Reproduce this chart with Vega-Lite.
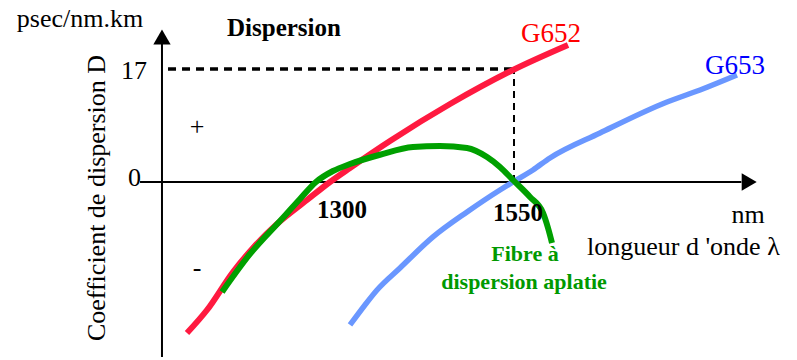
{
  "$schema": "https://vega.github.io/schema/vega-lite/v6.json",
  "width": 797,
  "height": 360,
  "autosize": {"type": "fit", "contains": "padding"},
  "padding": 0,
  "background": "white",
  "config": {"view": {"stroke": null}},
  "datasets": {
    "curves": [
      {"series": "G652", "ord": 1, "x": 1132.9, "y": -22.72},
      {"series": "G652", "ord": 2, "x": 1158.4, "y": -19.26},
      {"series": "G652", "ord": 3, "x": 1191.6, "y": -13.54},
      {"series": "G652", "ord": 4, "x": 1217.1, "y": -9.93},
      {"series": "G652", "ord": 5, "x": 1247.7, "y": -6.32},
      {"series": "G652", "ord": 6, "x": 1286.0, "y": -2.71},
      {"series": "G652", "ord": 7, "x": 1315.3, "y": 0.0},
      {"series": "G652", "ord": 8, "x": 1340.8, "y": 2.11},
      {"series": "G652", "ord": 9, "x": 1391.8, "y": 6.17},
      {"series": "G652", "ord": 10, "x": 1468.4, "y": 11.73},
      {"series": "G652", "ord": 11, "x": 1548.7, "y": 16.85},
      {"series": "G652", "ord": 12, "x": 1618.9, "y": 20.61},
      {"series": "G653", "ord": 1, "x": 1340.8, "y": -21.51},
      {"series": "G653", "ord": 2, "x": 1359.9, "y": -18.5},
      {"series": "G653", "ord": 3, "x": 1375.3, "y": -16.25},
      {"series": "G653", "ord": 4, "x": 1404.6, "y": -12.94},
      {"series": "G653", "ord": 5, "x": 1446.7, "y": -8.27},
      {"series": "G653", "ord": 6, "x": 1490.1, "y": -4.51},
      {"series": "G653", "ord": 7, "x": 1532.1, "y": -1.2},
      {"series": "G653", "ord": 8, "x": 1548.7, "y": 0.0},
      {"series": "G653", "ord": 9, "x": 1574.2, "y": 1.81},
      {"series": "G653", "ord": 10, "x": 1595.9, "y": 3.61},
      {"series": "G653", "ord": 11, "x": 1659.7, "y": 7.37},
      {"series": "G653", "ord": 12, "x": 1745.2, "y": 12.04},
      {"series": "G653", "ord": 13, "x": 1787.3, "y": 13.84},
      {"series": "G653", "ord": 14, "x": 1834.4, "y": 16.1},
      {"series": "flat", "ord": 1, "x": 1177.6, "y": -16.55},
      {"series": "flat", "ord": 2, "x": 1213.3, "y": -10.83},
      {"series": "flat", "ord": 3, "x": 1251.5, "y": -5.87},
      {"series": "flat", "ord": 4, "x": 1277.0, "y": -2.56},
      {"series": "flat", "ord": 5, "x": 1297.4, "y": 0.0},
      {"series": "flat", "ord": 6, "x": 1319.1, "y": 1.65},
      {"series": "flat", "ord": 7, "x": 1340.8, "y": 2.7},
      {"series": "flat", "ord": 8, "x": 1379.1, "y": 4.1},
      {"series": "flat", "ord": 9, "x": 1421.2, "y": 5.27},
      {"series": "flat", "ord": 10, "x": 1455.6, "y": 5.42},
      {"series": "flat", "ord": 11, "x": 1490.1, "y": 5.12},
      {"series": "flat", "ord": 12, "x": 1515.6, "y": 3.76},
      {"series": "flat", "ord": 13, "x": 1532.1, "y": 2.26},
      {"series": "flat", "ord": 14, "x": 1548.7, "y": 0.3},
      {"series": "flat", "ord": 15, "x": 1570.4, "y": -2.26},
      {"series": "flat", "ord": 16, "x": 1587.0, "y": -4.66},
      {"series": "flat", "ord": 17, "x": 1593.4, "y": -6.92},
      {"series": "flat", "ord": 18, "x": 1598.5, "y": -9.18}
    ],
    "rules": [
      {"kind": "axis", "x": 1101.0, "y": -26.33, "x2": 1101.0, "y2": 21.5},
      {"kind": "axis", "x": 1073.0, "y": 0, "x2": 1840.0, "y2": 0},
      {"kind": "hdash", "x": 1108.7, "y": 17, "x2": 1550.0, "y2": 17},
      {"kind": "vdash", "x": 1550.0, "y": 0, "x2": 1550.0, "y2": 17}
    ],
    "arrows": [
      {"dir": "up", "x": 1101.0, "y": 21.8},
      {"dir": "right", "x": 1850.0, "y": 0}
    ],
    "labels": [
      {"kind": "plain", "text": "psec/nm.km", "x": 996.4, "y": 24.52},
      {"kind": "bold", "text": "Dispersion", "x": 1256.6, "y": 23.17},
      {"kind": "right", "text": "17", "x": 1082.0, "y": 16.7},
      {"kind": "right", "text": "0", "x": 1074.2, "y": 0.6},
      {"kind": "plain", "text": "+", "x": 1145.7, "y": 8.27},
      {"kind": "plain", "text": "-", "x": 1145.7, "y": -12.94},
      {"kind": "bold", "text": "1300", "x": 1330.6, "y": -4.21},
      {"kind": "bold", "text": "1550", "x": 1555.1, "y": -4.66},
      {"kind": "plain", "text": "nm", "x": 1848.5, "y": -4.96},
      {"kind": "left", "text": "longueur d 'onde λ", "x": 1643.1, "y": -9.78},
      {"kind": "green", "text": "Fibre à", "x": 1564.0, "y": -10.83},
      {"kind": "green", "text": "dispersion aplatie", "x": 1562.8, "y": -15.04},
      {"kind": "red", "text": "G652", "x": 1597.2, "y": 22.27},
      {"kind": "blue", "text": "G653", "x": 1831.9, "y": 17.45},
      {"kind": "ytitle", "text": "Coefficient de dispersion D", "x": 1018.1, "y": -2.41}
    ]
  },
  "encoding": {
    "x": {"field": "x", "type": "quantitative", "scale": {"domain": [894.39, 1910.97], "nice": false, "zero": false}, "axis": null},
    "y": {"field": "y", "type": "quantitative", "scale": {"domain": [-26.78, 27.38], "nice": false, "zero": false}, "axis": null}
  },
  "layer": [
    {
      "data": {"name": "rules"},
      "transform": [{"filter": "datum.kind === 'axis'"}],
      "mark": {"type": "rule", "color": "black", "strokeWidth": 2},
      "encoding": {"x2": {"field": "x2"}, "y2": {"field": "y2"}}
    },
    {
      "data": {"name": "rules"},
      "transform": [{"filter": "datum.kind === 'hdash'"}],
      "mark": {"type": "rule", "color": "black", "strokeWidth": 3.5, "strokeDash": [8, 6]},
      "encoding": {"x2": {"field": "x2"}, "y2": {"field": "y2"}}
    },
    {
      "data": {"name": "rules"},
      "transform": [{"filter": "datum.kind === 'vdash'"}],
      "mark": {"type": "rule", "color": "black", "strokeWidth": 2, "strokeDash": [7, 5]},
      "encoding": {"x2": {"field": "x2"}, "y2": {"field": "y2"}}
    },
    {
      "data": {"name": "arrows"},
      "transform": [{"filter": "datum.dir === 'up'"}],
      "mark": {"type": "point", "shape": "triangle-up", "filled": true, "color": "black", "opacity": 1, "size": 300}
    },
    {
      "data": {"name": "arrows"},
      "transform": [{"filter": "datum.dir === 'right'"}],
      "mark": {"type": "point", "shape": "triangle-right", "filled": true, "color": "black", "opacity": 1, "size": 300}
    },
    {
      "data": {"name": "curves"},
      "transform": [{"filter": "datum.series === 'G652'"}],
      "mark": {"type": "line", "color": "#ff1a40", "strokeWidth": 6, "interpolate": "monotone"},
      "encoding": {"order": {"field": "ord", "type": "quantitative"}}
    },
    {
      "data": {"name": "curves"},
      "transform": [{"filter": "datum.series === 'G653'"}],
      "mark": {"type": "line", "color": "#6a97ff", "strokeWidth": 5.5, "interpolate": "monotone"},
      "encoding": {"order": {"field": "ord", "type": "quantitative"}}
    },
    {
      "data": {"name": "curves"},
      "transform": [{"filter": "datum.series === 'flat'"}],
      "mark": {"type": "line", "color": "#00a000", "strokeWidth": 6, "interpolate": "monotone"},
      "encoding": {"order": {"field": "ord", "type": "quantitative"}}
    },
    {
      "data": {"name": "labels"},
      "transform": [{"filter": "datum.kind === 'plain'"}],
      "mark": {"type": "text", "font": "Liberation Serif", "fontSize": 26, "color": "black", "baseline": "middle", "align": "center"},
      "encoding": {"text": {"field": "text"}}
    },
    {
      "data": {"name": "labels"},
      "transform": [{"filter": "datum.kind === 'right'"}],
      "mark": {"type": "text", "font": "Liberation Serif", "fontSize": 26, "color": "black", "baseline": "middle", "align": "right"},
      "encoding": {"text": {"field": "text"}}
    },
    {
      "data": {"name": "labels"},
      "transform": [{"filter": "datum.kind === 'left'"}],
      "mark": {"type": "text", "font": "Liberation Serif", "fontSize": 26, "color": "black", "baseline": "middle", "align": "left"},
      "encoding": {"text": {"field": "text"}}
    },
    {
      "data": {"name": "labels"},
      "transform": [{"filter": "datum.kind === 'bold'"}],
      "mark": {"type": "text", "font": "Liberation Serif", "fontSize": 25, "fontWeight": "bold", "color": "black", "baseline": "middle", "align": "center"},
      "encoding": {"text": {"field": "text"}}
    },
    {
      "data": {"name": "labels"},
      "transform": [{"filter": "datum.kind === 'green'"}],
      "mark": {"type": "text", "font": "Liberation Serif", "fontSize": 22, "fontWeight": "bold", "color": "#009900", "baseline": "middle", "align": "center"},
      "encoding": {"text": {"field": "text"}}
    },
    {
      "data": {"name": "labels"},
      "transform": [{"filter": "datum.kind === 'red'"}],
      "mark": {"type": "text", "font": "Liberation Serif", "fontSize": 27, "color": "#ff0000", "baseline": "middle", "align": "center"},
      "encoding": {"text": {"field": "text"}}
    },
    {
      "data": {"name": "labels"},
      "transform": [{"filter": "datum.kind === 'blue'"}],
      "mark": {"type": "text", "font": "Liberation Serif", "fontSize": 27, "color": "#0000ff", "baseline": "middle", "align": "center"},
      "encoding": {"text": {"field": "text"}}
    },
    {
      "data": {"name": "labels"},
      "transform": [{"filter": "datum.kind === 'ytitle'"}],
      "mark": {"type": "text", "font": "Liberation Serif", "fontSize": 26, "color": "black", "baseline": "middle", "align": "center", "angle": 270},
      "encoding": {"text": {"field": "text"}}
    }
  ]
}
